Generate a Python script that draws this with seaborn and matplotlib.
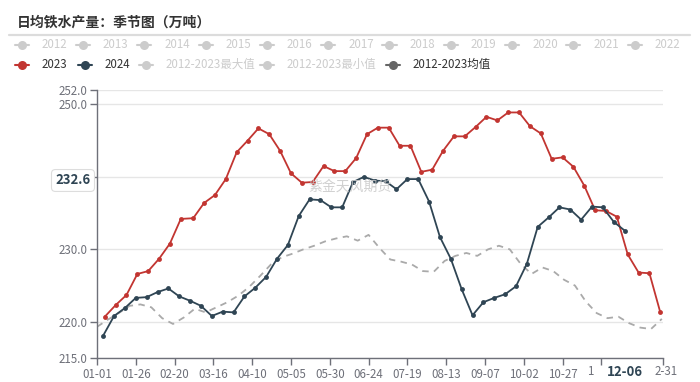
import numpy as np
import pandas as pd
import matplotlib
matplotlib.use("Agg")
import matplotlib.pyplot as plt
import seaborn as sns
from matplotlib.lines import Line2D

# weekly readings (万吨)
v2023 = [220.7, 222.3, 223.7, 226.6, 227.0, 228.7, 230.8, 234.2, 234.3, 236.4,
         237.5, 239.7, 243.4, 245.0, 246.7, 245.9, 243.6, 240.5, 239.2, 239.3,
         241.5, 240.8, 240.8, 242.6, 245.9, 246.8, 246.8, 244.3, 244.3, 240.7,
         241.0, 243.6, 245.6, 245.6, 246.9, 248.3, 247.8, 248.9, 248.9, 247.0,
         246.0, 242.5, 242.7, 241.4, 238.8, 235.4, 235.3, 234.5, 229.3, 226.8,
         226.7, 221.3]
v2024 = [218.1, 220.8, 221.9, 223.3, 223.4, 224.1, 224.6, 223.5, 222.9, 222.2,
         220.8, 221.4, 221.3, 223.5, 224.7, 226.2, 228.7, 230.6, 234.6, 236.9,
         236.8, 235.8, 235.8, 239.3, 240.0, 239.5, 239.4, 238.3, 239.7, 239.7,
         236.6, 231.7, 228.7, 224.5, 220.9, 222.7, 223.3, 223.8, 224.9, 228.0,
         233.1, 234.4, 235.8, 235.5, 234.1, 235.9, 235.8, 233.8, 232.6]
v_avg = [219.3, 220.3, 221.2, 222.2, 222.4, 222.0, 220.5, 219.7, 220.6, 221.8,
         221.3, 222.0, 222.7, 223.6, 224.8, 226.3, 227.9, 228.9, 229.4, 230.0,
         230.5, 231.1, 231.5, 231.8, 231.2, 232.0, 230.2, 228.6, 228.3, 227.9,
         227.0, 226.9, 228.4, 229.1, 229.5, 229.1, 230.0, 230.5, 230.0, 228.0,
         226.6, 227.5, 227.0, 225.8, 225.0, 222.8, 221.2, 220.5, 220.7, 219.8,
         219.2, 219.0, 220.4]

d2023 = pd.date_range("2023-01-06", periods=len(v2023), freq="7D")
d2024 = pd.date_range("2024-01-05", periods=len(v2024), freq="7D")
d_avg = pd.date_range("2024-01-01", periods=len(v_avg), freq="7D")

grey_years = [str(y) for y in range(2012, 2023)]
xtick_days = [0, 25, 50, 75, 100, 125, 150, 175, 200, 225, 250, 275, 300, 325, 365]
xtick_labels = ["01-01", "01-26", "02-20", "03-16", "04-10", "05-05", "05-30",
                "06-24", "07-19", "08-13", "09-07", "10-02", "10-27", "", ""]
yticks = [215, 220, 230, 240, 250, 252]
ylabels = ["215.0", "220.0", "230.0", "", "250.0", "252.0"]


def season_day(dates):
    # position on a MM-DD axis built on a leap year
    return [(pd.Timestamp(2024, d.month, d.day) - pd.Timestamp(2024, 1, 1)).days for d in dates]


RED = "#c23531"
NAVY = "#2f4554"
AXC = "#6e7079"
W, H = 700, 382

sns.set_theme(style="white")
plt.rcParams["font.family"] = ["Noto Sans CJK SC", "DejaVu Sans"]

fig = plt.figure(figsize=(7, 3.82), dpi=100)


def fx(px):
    return px / W


def fy(py):
    return 1 - py / H


# title + separator
fig.text(fx(17), fy(23), "日均铁水产量：季节图（万吨）", fontsize=10, fontweight="bold",
         color="#333333", ha="left", va="center")
fig.add_artist(Line2D([fx(9), fx(690)], [fy(35), fy(35)], color="#dcdcdc", lw=1.6))


def legend_item(mx, py, label, col, tcol):
    fig.add_artist(Line2D([fx(mx - 7), fx(mx + 7)], [fy(py), fy(py)], color=col, lw=1.5))
    fig.add_artist(Line2D([fx(mx)], [fy(py)], marker="o", ms=6.5, color=col, mew=0))
    fig.text(fx(mx + 20), fy(py), label, fontsize=8.3, color=tcol, ha="left", va="center")


for i, yr in enumerate(grey_years):
    legend_item(21.7 + i * 61.3, 45, yr, "#cccccc", "#cccccc")
legend_item(21.7, 64.5, "2023", RED, "#333333")
legend_item(85, 64.5, "2024", NAVY, "#333333")
legend_item(146, 64.5, "2012-2023最大值", "#cccccc", "#cccccc")
legend_item(267, 64.5, "2012-2023最小值", "#cccccc", "#cccccc")
legend_item(393, 64.5, "2012-2023均值", "#666666", "#333333")

# plot area
ax = fig.add_axes([fx(97), fy(358), fx(663.4) - fx(97), (358 - 90) / H])

sns.lineplot(x=season_day(d_avg), y=v_avg, ax=ax, color="#aaaaaa", linewidth=1.3)
ax.lines[-1].set_dashes((3.6, 3))
sns.lineplot(x=season_day(d2023), y=v2023, ax=ax, color=RED, marker="o",
             markersize=3.5, markeredgewidth=0, linewidth=1.3)
sns.lineplot(x=season_day(d2024), y=v2024, ax=ax, color=NAVY, marker="o",
             markersize=3.5, markeredgewidth=0, linewidth=1.3)

ax.set_xlim(0, 365)
ax.set_ylim(215, 252)
ax.set_yticks(yticks)
ax.set_yticklabels(ylabels)
ax.set_xticks(xtick_days)
ax.set_xticklabels(xtick_labels)
ax.grid(axis="y", color="#e6e6e6", lw=1)
ax.set_axisbelow(True)
for s in ["top", "right"]:
    ax.spines[s].set_visible(False)
for s in ["left", "bottom"]:
    ax.spines[s].set_color(AXC)
    ax.spines[s].set_linewidth(1)
ax.tick_params(axis="both", length=5, width=1, color=AXC, labelcolor=AXC,
               labelsize=8.3, pad=2, left=True, bottom=True)
ax.set_xlabel("")
ax.set_ylabel("")

# partly hidden labels behind the 12-06 pointer
fig.text(fx(590), fy(371.5), "1", fontsize=8.3, color=AXC, ha="center", va="center")
fig.text(fx(666), fy(371.5), "2-31", fontsize=8.3, color=AXC, ha="center", va="center")

# watermark
fig.text(fx(350), fy(187), "紫金天风期货", fontsize=10, color="#c8c8c8", alpha=0.85,
         ha="center", va="center")

# pointer labels
fig.text(fx(73), fy(180.5), "232.6", fontsize=9.5, fontweight="bold", color=NAVY,
         ha="center", va="center", zorder=10,
         bbox=dict(boxstyle="round,pad=0.3", fc="white", ec="#dddddd", lw=0.8))
fig.text(fx(624.5), fy(371.5), "12-06", fontsize=9.5, fontweight="bold", color=NAVY,
         ha="center", va="center", zorder=10)

fig.savefig("out.png", dpi=100)
